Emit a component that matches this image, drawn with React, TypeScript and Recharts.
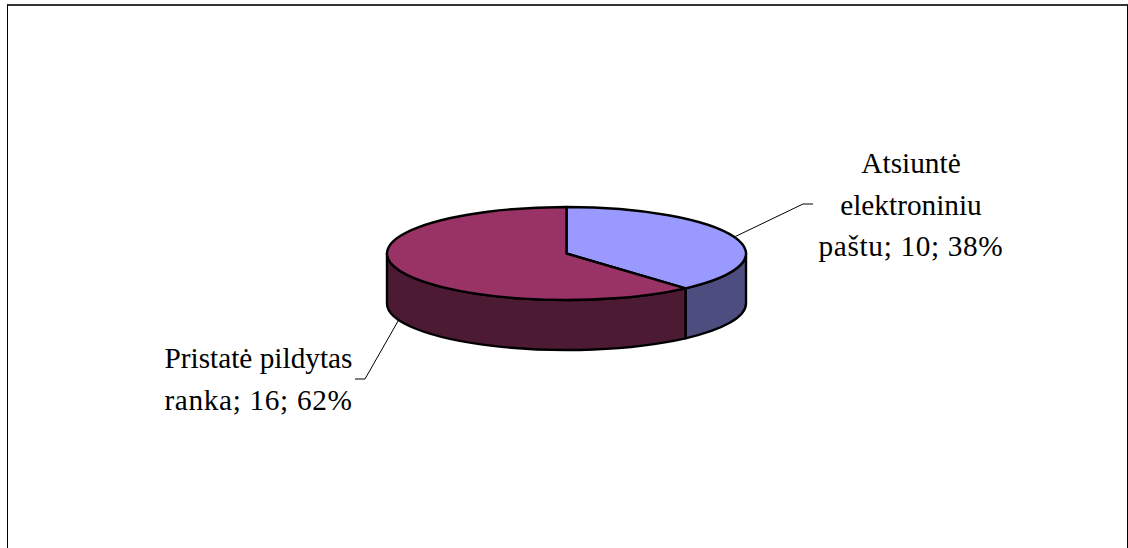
import { Pie, PieChart } from "recharts";

const categoryRows = [
  ["Atsiuntė", "elektroniniu", "paštu"],
  ["Pristatė pildytas", "ranka"],
];
const values = [10, 16];
const topColors = ["#9999ff", "#993366"];
const wallColors = ["#4d4d80", "#4d1a33"];

const data = categoryRows.map((rows, i) => ({
  name: rows.join(" "),
  value: values[i],
  fill: topColors[i],
}));

const WIDTH = 1128;
const HEIGHT = 548;
const TILT = 0.259; // vertical squash of the disc
const DEPTH = 50;
const FONT = "'Liberation Serif', 'Times New Roman', serif";
const LINE_HEIGHT = 41.5;

// label block placement and the elbow of each leader line
const labelLayout = [
  { x: 911, y: 173, elbow: [803, 204], end: [813, 204] },
  { x: 258.5, y: 368, elbow: [365, 379], end: [355, 379] },
];

const RAD = Math.PI / 180;

function Slice(props: any) {
  const { cx, cy, outerRadius: rx, startAngle, endAngle, fill, index } = props;
  const ry = rx * TILT;
  const pt = (a: number, dy = 0) =>
    `${cx + rx * Math.cos(a * RAD)} ${cy - ry * Math.sin(a * RAD) + dy}`;

  const large = Math.abs(startAngle - endAngle) > 180 ? 1 : 0;
  const top = `M${cx} ${cy}L${pt(startAngle)}A${rx} ${ry} 0 ${large} 1 ${pt(endAngle)}Z`;

  // only the front half of the rim shows
  const hi = Math.min(startAngle, 0);
  const lo = Math.max(endAngle, -180);
  const wall =
    hi > lo
      ? `M${pt(hi)}A${rx} ${ry} 0 0 1 ${pt(lo)}L${pt(lo, DEPTH)}A${rx} ${ry} 0 0 0 ${pt(hi, DEPTH)}Z`
      : null;

  return (
    <g>
      {wall && (
        <path d={wall} fill={wallColors[index]} stroke="#000" strokeWidth={2.4} strokeLinejoin="round" />
      )}
      <path d={top} fill={fill} stroke="#000" strokeWidth={2.4} strokeLinejoin="round" />
    </g>
  );
}

function SliceLabel(props: any) {
  const { cx, cy, outerRadius: rx, midAngle, percent, value, index } = props;
  const layout = labelLayout[index];
  const rows = [...categoryRows[index]];
  const last = rows.length - 1;
  rows[last] += `; ${value}; ${Math.round(percent * 100)}%`;

  const sin = Math.sin(midAngle * RAD);
  const startX = cx + rx * Math.cos(midAngle * RAD);
  const startY = cy - rx * TILT * sin + (sin < 0 ? DEPTH : 0);

  return (
    <g>
      <polyline
        points={`${startX},${startY} ${layout.elbow.join(",")} ${layout.end.join(",")}`}
        fill="none"
        stroke="#000"
        strokeWidth={1}
      />
      <text
        x={layout.x}
        y={layout.y}
        textAnchor="middle"
        fontFamily={FONT}
        fontSize={29.3}
        fill="#000"
      >
        {rows.map((row, i) => (
          <tspan
            key={row}
            x={layout.x}
            y={layout.y + i * LINE_HEIGHT}
            letterSpacing={i === last ? 0.65 : 0}
          >
            {row}
          </tspan>
        ))}
      </text>
    </g>
  );
}

export default function App() {
  return (
    <div
      style={{
        position: "absolute",
        left: 0,
        top: 0,
        width: WIDTH,
        height: HEIGHT,
        overflow: "hidden",
        background: "#fff",
      }}
    >
      <div
        style={{
          position: "absolute",
          left: 7,
          top: 4,
          width: WIDTH - 7,
          height: HEIGHT,
          borderLeft: "1px solid #000",
          borderRight: "1px solid #000",
          borderTop: "2px solid #333",
          boxSizing: "border-box",
        }}
      />
      <div style={{ position: "absolute", left: 0, top: 0 }}>
        <PieChart
          width={WIDTH}
          height={HEIGHT}
          margin={{ top: 0, right: 0, bottom: 0, left: 0 }}
        >
          <Pie
            data={data}
            dataKey="value"
            nameKey="name"
            cx={566.5}
            cy={253.5}
            innerRadius={0}
            outerRadius={179.5}
            startAngle={90}
            endAngle={-270}
            paddingAngle={0}
            shape={Slice}
            label={SliceLabel}
            labelLine={false}
            isAnimationActive={false}
          />
        </PieChart>
      </div>
    </div>
  );
}
